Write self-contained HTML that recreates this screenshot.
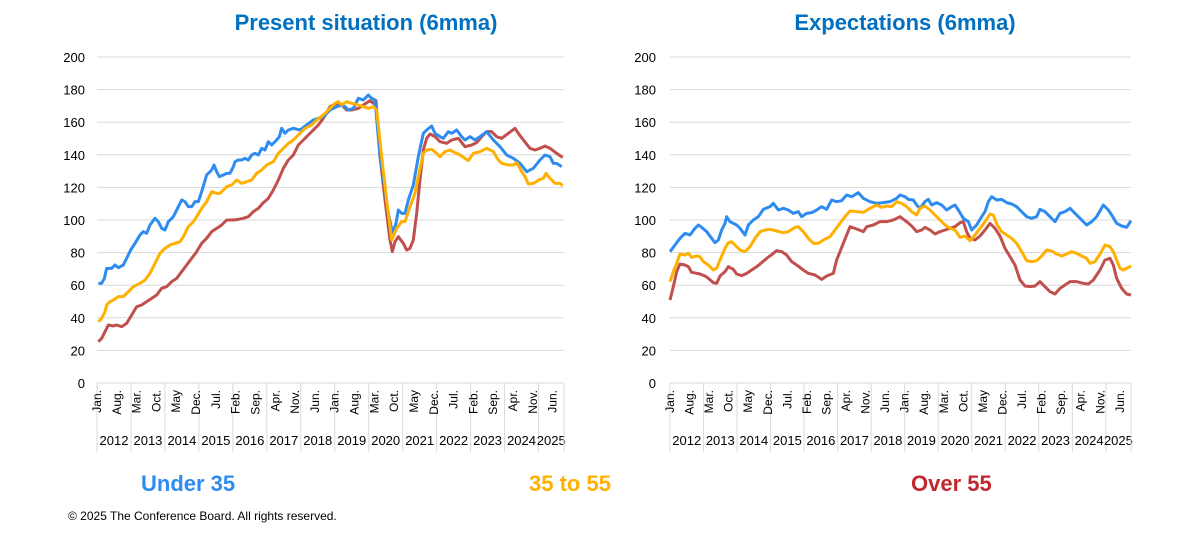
<!DOCTYPE html>
<html><head><meta charset="utf-8"><style>
body{margin:0;background:#fff;width:1179px;height:534px;overflow:hidden;font-family:"Liberation Sans",Arial,sans-serif}
svg{display:block}
</style></head><body>
<svg id="s" width="1179" height="534" viewBox="0 0 1179 534" font-family="Liberation Sans, Arial, sans-serif">
<text x="366" y="30" text-anchor="middle" font-size="22" font-weight="bold" fill="#0070C0">Present situation (6mma)</text>
<text x="905" y="30" text-anchor="middle" font-size="22" font-weight="bold" fill="#0070C0">Expectations (6mma)</text>
<text x="141" y="491" font-size="22" font-weight="bold" fill="#2E8BF0">Under 35</text>
<text x="529" y="491" font-size="22" font-weight="bold" fill="#FFB000">35 to 55</text>
<text x="911" y="491" font-size="22" font-weight="bold" fill="#C0282D">Over 55</text>
<text x="68" y="520" font-size="12" fill="#000">© 2025 The Conference Board. All rights reserved.</text>
<g id="axes"></g>
<g transform="translate(60,40) scale(0.33333)" fill="none" stroke-width="9" stroke-linejoin="round">
<polyline stroke="#C0504D" points="115,905 125,895 135,875 145,855 160,858 170,855 185,860 200,850 215,825 230,800 245,795 260,785 275,775 290,765 305,745 320,740 335,725 350,715 365,695 380,675 395,655 410,635 425,610 440,595 455,575 470,565 485,555 500,540 520,540 535,538 550,535 565,530 580,515 595,505 610,488 625,475 640,450 655,420 670,385 685,360 700,345 715,315 730,300 745,285 760,270 775,255 790,235 810,200 830,190 845,195 860,210 875,210 895,205 910,195 930,182 940,190 948,182 960,350 975,480 990,600 997,635 1005,605 1015,590 1030,610 1040,630 1050,625 1060,600 1070,520 1080,420 1090,330 1100,295 1110,282 1125,290 1140,305 1160,310 1175,300 1195,295 1215,320 1235,315 1250,308 1265,290 1280,275 1295,275 1310,290 1325,295 1345,280 1365,265 1375,280 1390,300 1410,325 1425,330 1440,325 1455,318 1470,325 1490,340 1508,352"/>
<polyline stroke="#2E8BF0" points="115,730 125,730 133,715 140,685 155,685 165,675 175,683 190,675 200,655 212,630 225,610 240,585 250,575 260,580 270,555 285,535 295,545 305,565 315,570 325,545 340,530 355,500 365,480 375,485 385,500 395,500 405,485 415,485 425,455 440,405 455,390 462,375 470,395 478,410 490,405 500,400 510,400 520,380 525,365 535,360 545,360 555,355 565,360 575,345 585,340 595,345 605,325 615,330 625,305 635,315 650,300 658,290 665,265 675,280 685,270 700,265 720,270 740,255 760,240 775,235 790,230 810,210 830,200 845,195 855,200 865,210 880,205 895,175 910,180 925,165 935,175 945,180 960,350 975,450 985,520 998,580 1008,550 1015,510 1025,520 1035,520 1045,480 1060,435 1075,350 1090,280 1100,270 1115,258 1125,280 1140,290 1150,295 1165,275 1175,280 1190,270 1205,290 1215,300 1230,290 1245,300 1260,290 1280,275 1300,300 1320,320 1340,345 1360,355 1380,370 1400,395 1420,385 1440,360 1455,345 1470,350 1480,370 1490,370 1505,380"/>
<polyline stroke="#FFB000" points="115,845 125,835 135,815 140,795 150,785 160,780 175,770 190,770 205,755 220,740 240,730 255,720 270,700 285,670 300,640 315,625 330,615 345,610 360,605 370,590 385,560 400,545 410,530 425,505 440,485 455,455 470,460 480,460 500,440 515,435 530,420 545,430 560,425 575,420 590,400 605,390 620,375 640,365 655,340 670,325 685,310 700,300 715,285 735,265 755,255 770,240 790,225 810,205 825,190 835,185 845,195 860,185 875,190 895,195 910,200 925,205 940,200 950,210 965,350 980,480 995,600 1010,565 1025,545 1035,545 1050,500 1065,460 1080,385 1090,340 1100,330 1115,328 1130,340 1140,350 1155,335 1170,330 1185,338 1200,345 1215,355 1225,362 1240,340 1260,335 1280,325 1300,335 1315,360 1325,370 1345,375 1360,375 1370,368 1385,395 1395,410 1405,432 1420,430 1440,418 1450,415 1458,400 1470,415 1485,430 1500,430 1508,437"/>
</g>
<g transform="translate(630,150) scale(0.33333)" fill="none" stroke-width="9" stroke-linejoin="round">
<polyline stroke="#C0504D" points="120,450 130,410 140,365 150,342 165,345 175,350 185,367 200,370 210,372 225,378 235,385 250,398 260,400 270,378 285,365 295,350 310,358 320,372 335,377 350,370 365,360 380,350 395,338 410,325 425,314 440,302 455,305 470,315 485,335 500,345 520,360 535,370 555,375 575,388 590,378 610,370 620,330 640,280 660,230 680,237 700,245 710,230 730,225 750,215 770,215 790,210 810,200 830,215 845,228 860,245 875,240 885,232 900,240 915,252 930,245 945,240 960,235 975,230 990,218 1000,215 1010,245 1020,265 1035,270 1050,258 1065,240 1080,220 1095,235 1110,258 1125,295 1140,320 1155,345 1170,390 1185,408 1200,410 1215,408 1230,395 1245,410 1260,425 1275,432 1290,415 1305,405 1320,395 1340,395 1360,400 1375,402 1390,390 1410,360 1425,330 1440,325 1450,345 1460,385 1475,415 1490,432 1503,435"/>
<polyline stroke="#2E8BF0" points="120,305 135,285 150,265 165,250 180,255 195,235 205,225 215,232 230,245 245,265 255,278 265,270 275,240 285,220 290,200 300,215 320,225 330,235 345,255 355,225 370,210 385,200 400,178 420,170 430,160 445,180 460,175 475,180 490,190 505,185 515,200 530,190 545,188 560,180 575,170 590,178 605,150 620,155 635,152 650,135 665,140 685,128 700,145 720,155 740,160 760,158 780,155 800,145 810,135 825,140 835,148 850,150 860,165 870,175 885,155 895,148 905,165 920,158 935,165 950,180 965,170 975,165 985,180 1000,205 1015,215 1025,240 1040,225 1055,200 1065,185 1075,155 1085,140 1100,150 1115,148 1130,158 1145,162 1160,170 1175,185 1190,200 1205,205 1220,200 1230,178 1245,185 1260,200 1275,215 1290,190 1305,185 1320,175 1335,190 1350,205 1370,225 1385,215 1400,200 1420,165 1435,180 1445,195 1460,220 1475,228 1490,232 1503,212"/>
<polyline stroke="#FFB000" points="120,395 130,365 140,340 150,312 165,315 175,310 185,322 200,318 210,320 220,335 235,345 250,360 260,355 270,330 285,295 295,278 305,275 315,285 330,300 345,305 360,290 375,265 390,245 405,240 420,238 440,243 460,248 475,245 495,232 505,230 520,245 535,265 550,280 565,280 580,270 600,260 615,240 630,220 645,200 660,183 680,185 700,187 720,175 740,165 755,172 770,168 785,170 800,155 815,160 830,170 845,185 860,195 870,175 885,168 900,180 915,195 930,210 945,225 960,235 975,240 990,262 1005,258 1020,272 1035,255 1050,235 1065,215 1080,192 1090,195 1100,222 1115,245 1130,255 1145,265 1160,280 1175,305 1190,332 1205,335 1220,332 1235,318 1250,300 1265,303 1280,312 1295,318 1310,312 1325,305 1340,310 1355,318 1370,325 1380,340 1395,335 1410,312 1425,285 1440,290 1450,305 1460,330 1470,355 1480,360 1495,352 1503,348"/>
</g>
</svg>
<script>
var NS="http://www.w3.org/2000/svg",g=document.getElementById("axes");
function el(t,a,txt){var e=document.createElementNS(NS,t);for(var k in a)e.setAttribute(k,a[k]);if(txt!=null)e.textContent=txt;g.appendChild(e);return e;}
var M=["Jan.","Feb.","Mar.","Apr.","May","Jun.","Jul.","Aug.","Sep.","Oct.","Nov.","Dec."];
function chart(x0,x1,lx){
 var y0=383,sc=1.63,pm=(x1-x0)/165;
 for(var v=0;v<=200;v+=20){var y=y0-v*sc;
  if(v>0)el("line",{x1:x0,x2:x1,y1:y,y2:y,stroke:"#d9d9d9","stroke-width":1});
  el("text",{x:lx,y:y+5,"text-anchor":"end","font-size":13,fill:"#000"},v);}
 el("line",{x1:x0,x2:x1,y1:y0,y2:y0,stroke:"#d9d9d9","stroke-width":1});
 for(var yr=0;yr<=14;yr++){var x=yr<14?x0+yr*12*pm:x1;
  el("line",{x1:x,x2:x,y1:y0,y2:452,stroke:"#d9d9d9","stroke-width":1});
  if(yr<14){var xe=yr<13?x0+(yr+1)*12*pm:x1;
   el("text",{x:(x+xe)/2,y:445,"text-anchor":"middle","font-size":13,fill:"#000"},2012+yr);}}
 for(var i=0;i<=161;i+=7){var x=x0+i*pm+4;
  el("text",{x:0,y:0,"text-anchor":"end","font-size":12,fill:"#000",transform:"translate("+x+",390) rotate(-90)"},M[i%12]);}
}
chart(97,564,85);
chart(670,1131,656);
</script>
</body></html>
